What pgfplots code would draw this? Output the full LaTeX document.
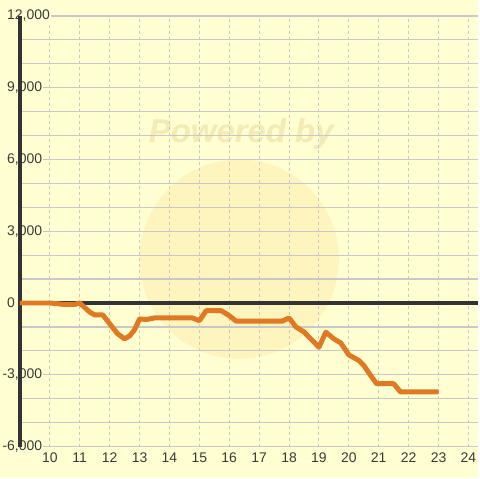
\documentclass[border=0pt]{standalone}
\usepackage{fontspec}
\setmainfont{Liberation Sans}
\usepackage{pgfplots}
\pgfplotsset{compat=1.18}
\pgfplotsset{layers/mylayers/.define layer set={axis background,axis grid,axis ticks,axis lines,main,axis tick labels,axis descriptions,axis foreground}{}}
\definecolor{bg}{HTML}{FFFFD2}
\definecolor{wmcircle}{HTML}{FCEFB0}
\definecolor{wmtext}{HTML}{F4EAB4}
\definecolor{axisdark}{HTML}{333333}
\definecolor{gridgray}{HTML}{C8C8C8}
\definecolor{lineorange}{HTML}{E07A22}
\definecolor{labelgray}{HTML}{3A3A3A}
\begin{document}
\begin{tikzpicture}[x=1pt,y=1pt]
\fill[bg] (0,0) rectangle (480,480);
\fill[wmcircle, opacity=0.6] (240,220) circle (100);
\node[font=\fontsize{33}{33}\selectfont\bfseries\itshape, text=wmtext, inner sep=0] at (242,346) {Powered by};
\begin{axis}[
  set layers=mylayers,
  at={(20pt,32pt)}, anchor=south west,
  scale only axis, width=460pt, height=432pt,
  xmin=9, xmax=24.3333, ymin=-6000, ymax=12000,
  scaled y ticks=false, scaled x ticks=false,
  axis line style={draw=none},
  tick style={draw=none},
  xtick={10,11,12,13,14,15,16,17,18,19,20,21,22,23,24},
  xticklabels={10,11,12,13,14,15,16,17,18,19,20,21,22,23,24},
  ytick={-6000,-3000,0,3000,6000,9000,12000},
  yticklabels={\mbox{\llap{-}6,000},\mbox{\llap{-}3,000},\mbox{0},\mbox{3,000},\mbox{6,000},\mbox{9,000},\mbox{12,000}},
  minor ytick={-5000,-4000,-2000,-1000,1000,2000,4000,5000,7000,8000,10000,11000},
  xmajorgrids, ymajorgrids, yminorgrids,
  x grid style={gridgray, line width=1pt, dash pattern=on 3pt off 3pt},
  y grid style={gridgray, line width=1.2pt, solid},
  minor grid style={gridgray, line width=1.2pt, solid},
  tick label style={font=\fontsize{14}{16}\selectfont, text=labelgray},
  yticklabel style={anchor=west, xshift=-14pt, fill=bg, inner sep=1pt},
  xticklabel style={anchor=north, yshift=-5pt, inner sep=1pt},
  clip=false,
]
\addplot[axisdark, line width=3.2pt, forget plot] coordinates {(9,-6000) (9,12000)};
\addplot[axisdark, line width=3.2pt, forget plot] coordinates {(9,0) (24.3333,0)};
\addplot[lineorange, line width=5pt, line join=round, line cap=butt] coordinates {
(9,0) (10,0) (10.5,-62) (10.83,-62) (11,0) (11.33,-375) (11.5,-500) (11.77,-500)
(12.27,-1290) (12.5,-1500) (12.67,-1375) (12.83,-1125) (13.0,-667) (13.23,-690)
(13.5,-625) (14.77,-625) (15.0,-740) (15.23,-320) (15.73,-320) (16.0,-530)
(16.23,-760) (17.77,-760) (18.0,-625) (18.23,-1000) (18.5,-1210) (19.0,-1850)
(19.23,-1220) (19.5,-1500) (19.73,-1670) (20.0,-2170) (20.33,-2400) (20.5,-2610)
(20.73,-3030) (20.93,-3375) (21.5,-3375) (21.73,-3720) (23.0,-3720)
};
\end{axis}
\end{tikzpicture}
\end{document}
